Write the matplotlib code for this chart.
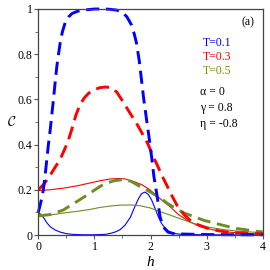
import matplotlib
matplotlib.use("Agg")
import matplotlib.pyplot as plt
from matplotlib.ticker import MultipleLocator, FuncFormatter

plt.rcParams['font.family'] = ['Liberation Serif', 'DejaVu Serif']
plt.rcParams['mathtext.fontset'] = 'cm'

# T=0.1 dashed
h_b_d = [0, 0.05, 0.09, 0.12, 0.15, 0.18, 0.21, 0.24, 0.27, 0.30, 0.33, 0.36, 0.39, 0.43,
         0.48, 0.54, 0.6, 0.7, 0.8, 1.0, 1.2, 1.3, 1.4, 1.5, 1.58, 1.66, 1.71, 1.75, 1.8,
         1.84, 1.88, 1.93, 1.97, 2.02, 2.06, 2.11, 2.17, 2.23, 2.31, 2.4, 2.6, 3.0, 3.5, 4.0]
c_b_d = [0.1, 0.15, 0.2, 0.26, 0.33, 0.40, 0.46, 0.53, 0.6, 0.675, 0.745, 0.8, 0.85, 0.9,
         0.94, 0.965, 0.98, 0.99, 0.995, 1.0, 1.0, 0.998, 0.995, 0.985, 0.965, 0.93, 0.89, 0.85,
         0.77, 0.685, 0.6, 0.51, 0.44, 0.345, 0.26, 0.185, 0.08, 0.035, 0.013, 0.007, 0.004,
         0.002, 0.001, 0.0005]
# T=0.1 solid
h_b_s = [0, 0.05, 0.1, 0.15, 0.21, 0.3, 0.39, 0.5, 0.6, 0.8, 1.0, 1.2, 1.3, 1.38, 1.46, 1.55,
         1.64, 1.72, 1.78, 1.84, 1.9, 1.96, 2.02, 2.08, 2.14, 2.2, 2.26, 2.33, 2.4, 2.5, 2.7,
         3.0, 4.0]
c_b_s = [0.1, 0.09, 0.075, 0.055, 0.037, 0.022, 0.013, 0.006, 0.003, 0.001, 0.001, 0.003,
         0.008, 0.014, 0.024, 0.045, 0.078, 0.125, 0.158, 0.183, 0.19, 0.18, 0.155, 0.118,
         0.08, 0.05, 0.03, 0.016, 0.008, 0.004, 0.002, 0.001, 0.0]
# T=0.3 dashed
h_r_d = [0, 0.1, 0.2, 0.3, 0.39, 0.47, 0.53, 0.6, 0.67, 0.74, 0.82, 0.9, 1.0, 1.1, 1.2, 1.3,
         1.4, 1.51, 1.62, 1.75, 1.85, 1.96, 2.04, 2.11, 2.2, 2.29, 2.39, 2.49, 2.6, 2.7, 2.85,
         3.06, 3.3, 3.6, 4.0]
c_r_d = [0.2, 0.225, 0.26, 0.3, 0.335, 0.38, 0.415, 0.47, 0.53, 0.575, 0.607, 0.628, 0.643,
         0.652, 0.655, 0.652, 0.632, 0.59, 0.545, 0.495, 0.45, 0.40, 0.35, 0.315, 0.265, 0.22,
         0.17, 0.123, 0.09, 0.066, 0.045, 0.026, 0.015, 0.009, 0.005]
# T=0.3 solid
h_r_s = [0, 0.2, 0.44, 0.7, 0.92, 1.1, 1.28, 1.45, 1.55, 1.64, 1.72, 1.85, 1.99, 2.08, 2.2,
         2.35, 2.5, 2.7, 2.9, 3.2, 3.6, 4.0]
c_r_s = [0.197, 0.2, 0.207, 0.218, 0.23, 0.24, 0.248, 0.25, 0.248, 0.24, 0.235, 0.222, 0.2,
         0.18, 0.155, 0.125, 0.09, 0.058, 0.036, 0.018, 0.008, 0.004]
# T=0.5 dashed
h_g_d = [0, 0.2, 0.44, 0.7, 0.92, 1.1, 1.22, 1.35, 1.5, 1.65, 1.81, 2.0, 2.17, 2.3, 2.47,
         2.6, 2.7, 2.95, 3.18, 3.5, 3.9, 4.0]
c_g_d = [0.085, 0.09, 0.11, 0.15, 0.185, 0.215, 0.23, 0.24, 0.245, 0.238, 0.215, 0.19, 0.165,
         0.14, 0.115, 0.097, 0.088, 0.065, 0.05, 0.03, 0.016, 0.014]
# T=0.5 solid
h_g_s = [0, 0.2, 0.44, 0.7, 0.92, 1.1, 1.28, 1.45, 1.64, 1.8, 1.99, 2.15, 2.35, 2.55, 2.76,
         3.0, 3.3, 3.6, 4.0]
c_g_s = [0.085, 0.088, 0.097, 0.105, 0.113, 0.122, 0.128, 0.132, 0.133, 0.13, 0.12, 0.105,
         0.088, 0.07, 0.052, 0.036, 0.024, 0.016, 0.01]

legend_labels = ['T=0.1', 'T=0.3', 'T=0.5']
param_labels = ['α = 0', 'γ = 0.8', 'η = -0.8']

W = 270
fig = plt.figure(figsize=(2.7, 2.7), dpi=100)
ax = fig.add_axes([38.3 / W, 35 / W, 224.4 / W, 226 / W])

blue = '#0000ff'
red = '#ff0000'
green = '#6b8e23'
olive = '#8a8a00'

ax.plot(h_b_s, c_b_s, color=blue, lw=0.8)
ax.plot(h_r_s, c_r_s, color=red, lw=0.8)
ax.plot(h_g_s, c_g_s, color=green, lw=0.8)
ax.plot(h_g_d, c_g_d, color=green, lw=2.1, dashes=(4.5, 2.3))
ax.plot(h_r_d, c_r_d, color=red, lw=2.1, dashes=(4.5, 2.3))
ax.plot(h_b_d, c_b_d, color=blue, lw=2.1, dashes=(4.5, 2.3), clip_on=False)

ax.set_xlim(0, 4)
ax.set_ylim(0, 1.0)
ax.xaxis.set_major_locator(MultipleLocator(1))
ax.xaxis.set_minor_locator(MultipleLocator(0.5))
ax.yaxis.set_major_locator(MultipleLocator(0.2))
ax.yaxis.set_minor_locator(MultipleLocator(0.1))
ax.yaxis.set_major_formatter(FuncFormatter(lambda v, p: f'{v:g}'))
ax.xaxis.set_major_formatter(FuncFormatter(lambda v, p: f'{v:g}'))
ax.tick_params(which='major', direction='out', length=3, width=0.8, labelsize=8.5,
               color='#555555', pad=1)
ax.tick_params(which='minor', direction='out', length=2, width=0.6, color='#555555')
for s in ax.spines.values():
    s.set_linewidth(0.9)
    s.set_color('#444444')

fig.text(12 / W, 1 - 122 / W, r'$\mathcal{C}$', fontsize=10, ha='center', va='center')
fig.text(150 / W, 1 - 262 / W, 'h', fontsize=11, style='italic', ha='center', va='center')

fig.text(248 / W, 1 - 22 / W, '(a)', fontsize=8.5, ha='center', va='center')
for lab, col, yy in zip(legend_labels, [blue, red, olive], [42.5, 56.5, 70.5]):
    fig.text(203 / W, 1 - yy / W, lab, color=col, fontsize=8.5, ha='left', va='center')
for lab, yy in zip(param_labels, [92, 108, 124]):
    fig.text(200 / W, 1 - yy / W, lab, color='black', fontsize=8.5, ha='left', va='center')

fig.savefig('out.png', dpi=100)
